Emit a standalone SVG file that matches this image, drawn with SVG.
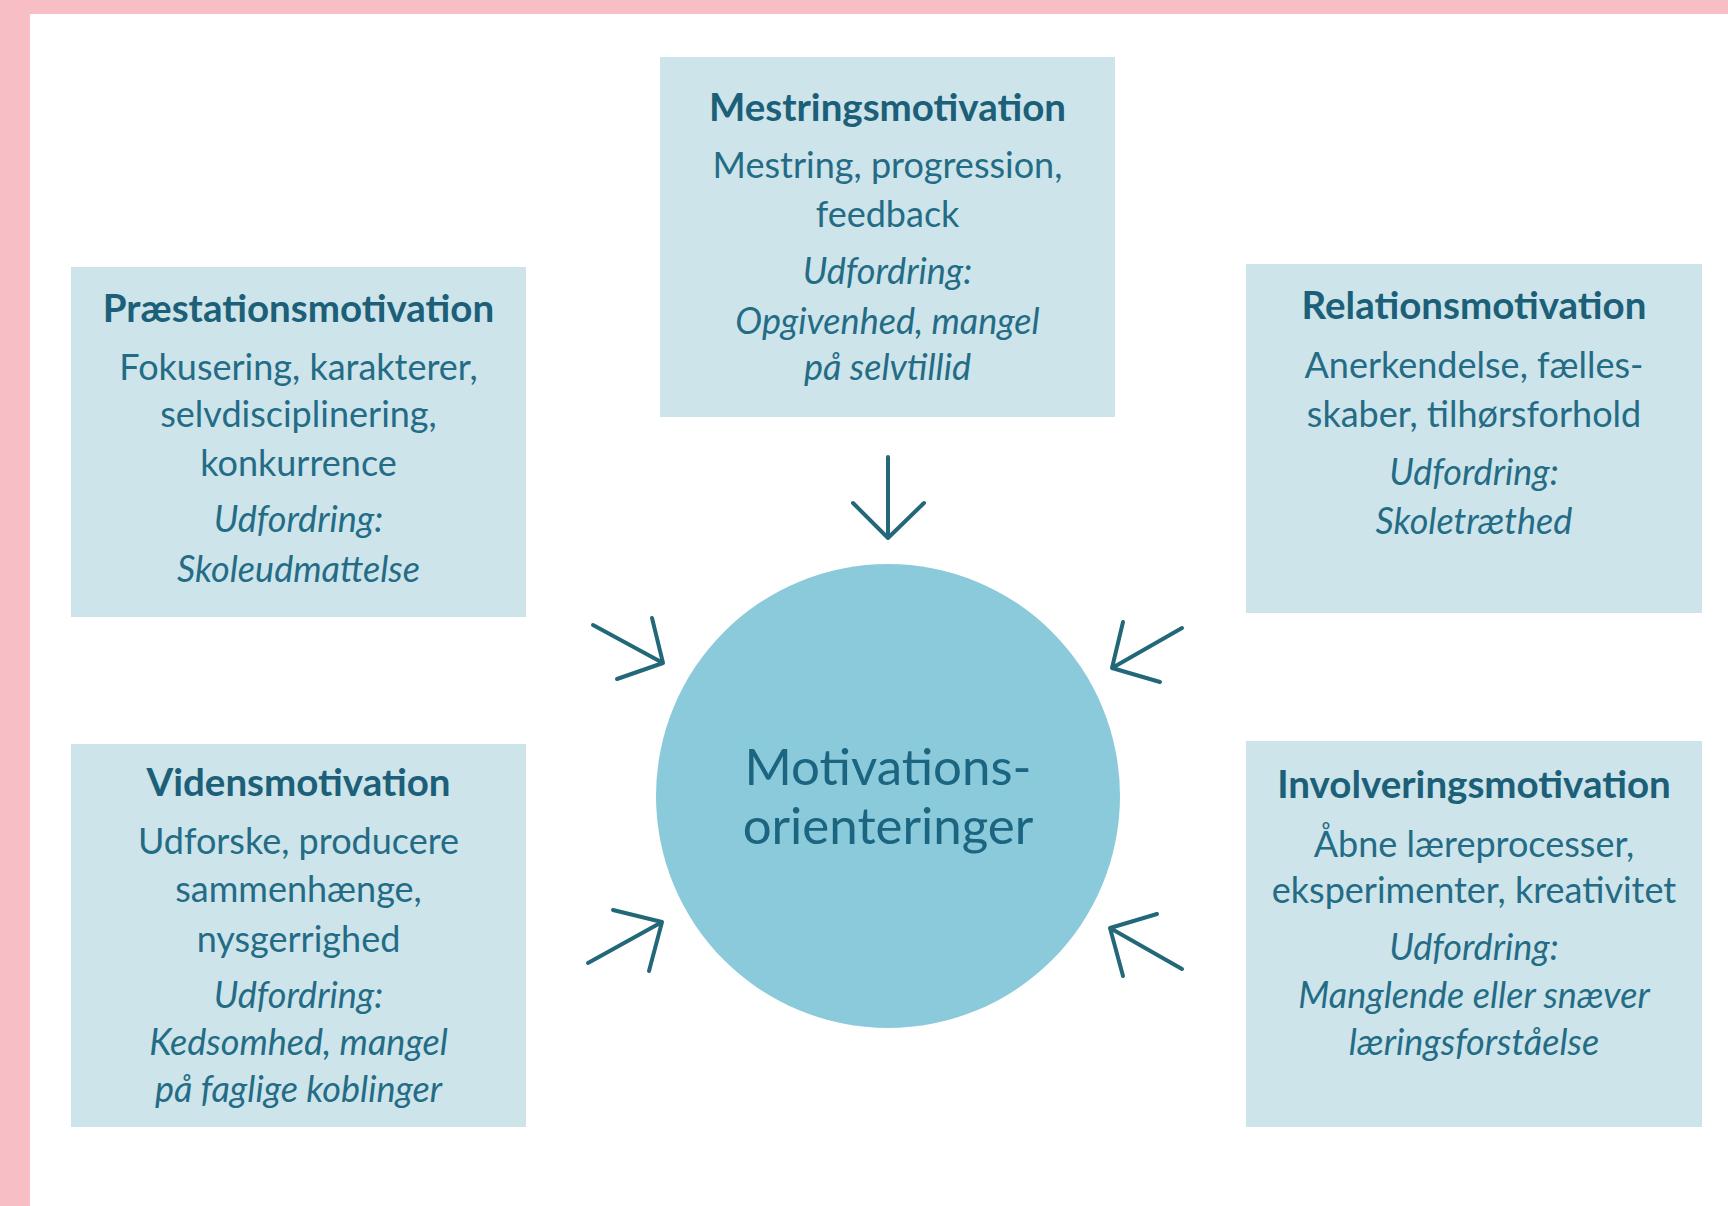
<svg xmlns="http://www.w3.org/2000/svg" width="1728" height="1206" viewBox="0 0 1728 1206">
<style>
.box{fill:#CDE4EA}
.t{font-family:Lato,"Liberation Sans",sans-serif;text-anchor:middle;fill:#246C86}
.h{font-weight:bold;font-size:38.5px;fill:#1C5F78}
.b{font-size:36px}
.i{font-size:36px;font-style:italic}
.c{font-size:51px;fill:#1C6580}
.arr{fill:none;stroke:#236878;stroke-width:4;stroke-linecap:round;stroke-linejoin:round}
</style>
<rect x="0" y="0" width="1728" height="1206" fill="#ffffff"/>
<rect x="0" y="0" width="1728" height="14" fill="#F7BEC6"/>
<rect x="0" y="0" width="30" height="1206" fill="#F7BEC6"/>

<g id="mestring">
<rect class="box" x="660" y="57" width="455" height="360"/>
<text class="t h" x="887.5" y="121">Mestringsmotivation</text>
<text class="t b" x="887.5" y="178">Mestring, progression,</text>
<text class="t b" x="887.5" y="227">feedback</text>
<text class="t i" x="887.5" y="284">Udfordring:</text>
<text class="t i" x="887.5" y="334">Opgivenhed, mangel</text>
<text class="t i" x="887.5" y="380">på selvtillid</text>
</g>

<g id="praestation">
<rect class="box" x="71" y="267" width="455" height="350"/>
<text class="t h" x="298.5" y="322">Præstationsmotivation</text>
<text class="t b" x="298.5" y="380">Fokusering, karakterer,</text>
<text class="t b" x="298.5" y="427">selvdisciplinering,</text>
<text class="t b" x="298.5" y="476">konkurrence</text>
<text class="t i" x="298.5" y="532">Udfordring:</text>
<text class="t i" x="298.5" y="582">Skoleudmattelse</text>
</g>

<g id="relation">
<rect class="box" x="1246" y="264" width="456" height="349"/>
<text class="t h" x="1474" y="319">Relationsmotivation</text>
<text class="t b" x="1474" y="378">Anerkendelse, fælles-</text>
<text class="t b" x="1474" y="427">skaber, tilhørsforhold</text>
<text class="t i" x="1474" y="485">Udfordring:</text>
<text class="t i" x="1474" y="534">Skoletræthed</text>
</g>

<g id="videns">
<rect class="box" x="71" y="744" width="455" height="383"/>
<text class="t h" x="298.5" y="796">Vidensmotivation</text>
<text class="t b" x="298.5" y="854">Udforske, producere</text>
<text class="t b" x="298.5" y="902">sammenhænge,</text>
<text class="t b" x="298.5" y="952">nysgerrighed</text>
<text class="t i" x="298.5" y="1008">Udfordring:</text>
<text class="t i" x="298.5" y="1055">Kedsomhed, mangel</text>
<text class="t i" x="298.5" y="1102">på faglige koblinger</text>
</g>

<g id="involvering">
<rect class="box" x="1246" y="741" width="456" height="386"/>
<text class="t h" x="1474" y="798">Involveringsmotivation</text>
<text class="t b" x="1474" y="857">Åbne læreprocesser,</text>
<text class="t b" x="1474" y="903">eksperimenter, kreativitet</text>
<text class="t i" x="1474" y="960">Udfordring:</text>
<text class="t i" x="1474" y="1008">Manglende eller snæver</text>
<text class="t i" x="1474" y="1055">læringsforståelse</text>
</g>

<g id="center">
<circle cx="888" cy="796" r="232" fill="#8ACADA"/>
<text class="t c" x="888" y="785">Motivations-</text>
<text class="t c" x="888" y="844">orienteringer</text>
</g>

<g id="connectors">
<path class="arr" d="M888 457 L888 538 M853 503 L888 538 L924 503"/>
<path class="arr" d="M593 625 L663 663 M652 618 L663 663 L617 679"/>
<path class="arr" d="M1182 628 L1112 668 M1123 622 L1112 668 L1160 682"/>
<path class="arr" d="M588 963 L662 922 M613 910 L662 922 L649 971"/>
<path class="arr" d="M1182 969 L1110 928 M1157 914 L1110 928 L1123 976"/>
</g>
</svg>
